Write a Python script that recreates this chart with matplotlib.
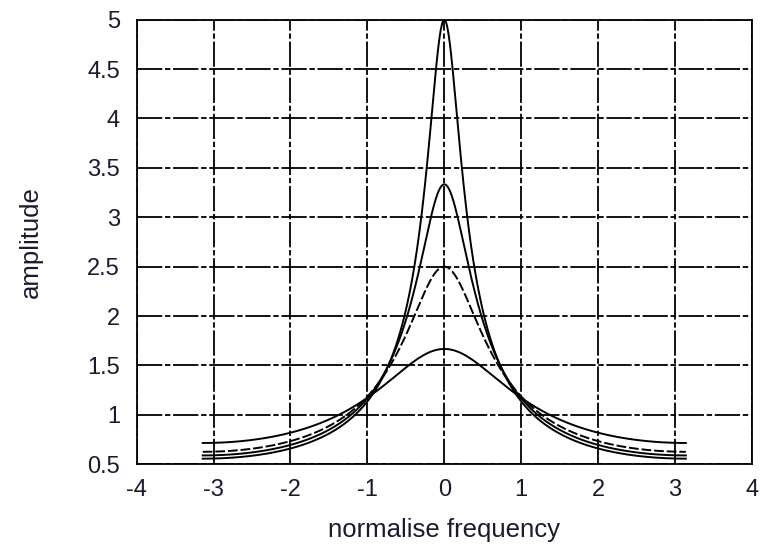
import numpy as np
import matplotlib
matplotlib.use("Agg")
import matplotlib.pyplot as plt

# pole coefficients of first-order filters 1/(1 - a e^{-jw}); peak = 1/(1-a)
poles = [0.8, 0.7, 0.6, 0.4]
styles = ['-', '-', (0, (5, 1.5)), '-']
xticks = [-4, -3, -2, -1, 0, 1, 2, 3, 4]
xtick_labels = ['-4', '-3', '-2', '-1', '0', '1', '2', '3', '4']
yticks = [0.5, 1, 1.5, 2, 2.5, 3, 3.5, 4, 4.5, 5]
ytick_labels = ['0.5', '1', '1.5', '2', '2.5', '3', '3.5', '4', '4.5', '5']

plt.rcParams['font.family'] = ['Liberation Sans', 'DejaVu Sans']
plt.rcParams['axes.unicode_minus'] = False

fig = plt.figure(figsize=(7.68, 5.48), dpi=100)
ax = fig.add_axes([0.178, 0.153, 0.801, 0.811])

w = np.linspace(-np.pi, np.pi, 801)
for a, ls in zip(poles, styles):
    h = 1.0 / np.abs(1 - a * np.exp(-1j * w))
    ax.plot(w, h, color='black', lw=1.4, linestyle=ls)

ax.set_xlim(-4, 4)
ax.set_ylim(0.5, 5)
ax.set_xticks(xticks)
ax.set_xticklabels(xtick_labels)
ax.set_yticks(yticks)
ax.set_yticklabels(ytick_labels)
ax.grid(True, color='black', lw=1.3, linestyle=(0, (14, 1.5, 3, 1.5)))
ax.tick_params(length=0, labelsize=17, colors='#1a1a2e')
ax.tick_params(axis='x', pad=11)
ax.tick_params(axis='y', pad=12)
for s in ax.spines.values():
    s.set_linewidth(1.3)
ax.set_xlabel('normalise frequency', fontsize=18.5, labelpad=12, color='#1a1a2e')
ax.set_ylabel('amplitude', fontsize=18.5, labelpad=32, color='#1a1a2e')

fig.savefig('out.png', dpi=100)
